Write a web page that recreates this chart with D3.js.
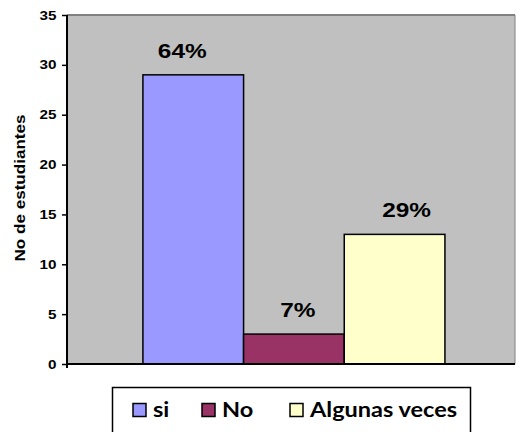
<!DOCTYPE html>
<html>
<head>
<meta charset="utf-8">
<script src="https://cdn.jsdelivr.net/npm/d3@7"></script>
<style>
  html, body { margin: 0; padding: 0; background: #ffffff; }
  svg { display: block; }
</style>
</head>
<body>
<svg id="chart" width="516" height="432"></svg>
<script>
// ---- data ----
const seriesNames = ["si", "No", "Algunas veces"];
const seriesValues = [29, 3, 13];
const valueLabels = ["64%", "7%", "29%"];
const yTicks = [0, 5, 10, 15, 20, 25, 30, 35];
const yTitle = "No de estudiantes";
const seriesColors = ["#9999ff", "#993366", "#ffffcc"];

// ---- layout ----
const W = 516, H = 432;
const plot = { left: 67, right: 515, top: 15, bottom: 364 };
const labelShift = [-11, 4, 12];   // small manual nudges of the data labels
const stretch = 1.22;              // the source chart's text is horizontally stretched

const svg = d3.select("#chart");

const x = d3.scaleBand()
  .domain(seriesNames)
  .range([plot.left, plot.right])
  .paddingInner(0)
  .paddingOuter(0.725)
  .align(0.52);

const y = d3.scaleLinear()
  .domain([0, 35])
  .range([plot.bottom, plot.top]);

// plot area background
svg.append("rect")
  .attr("x", plot.left).attr("y", plot.top)
  .attr("width", plot.right - plot.left).attr("height", plot.bottom - plot.top)
  .attr("fill", "#c0c0c0");
svg.append("line")
  .attr("x1", plot.left).attr("x2", plot.right)
  .attr("y1", plot.top).attr("y2", plot.top)
  .attr("stroke", "#808080").attr("stroke-width", 2);
svg.append("line")
  .attr("x1", plot.right).attr("x2", plot.right)
  .attr("y1", plot.top).attr("y2", plot.bottom)
  .attr("stroke", "#808080").attr("stroke-width", 1);

// bars
svg.append("g").selectAll("rect")
  .data(seriesValues)
  .join("rect")
  .attr("x", (d, i) => x(seriesNames[i]))
  .attr("y", d => y(d))
  .attr("width", x.bandwidth())
  .attr("height", d => y(0) - y(d))
  .attr("fill", (d, i) => seriesColors[i])
  .attr("stroke", "#000")
  .attr("stroke-width", 1.5);

// data labels
svg.append("g").selectAll("text")
  .data(seriesValues)
  .join("text")
  .attr("transform", (d, i) =>
    `translate(${x(seriesNames[i]) + x.bandwidth() / 2 + labelShift[i]},${y(d) - 17}) scale(${stretch},1)`)
  .attr("text-anchor", "middle")
  .attr("font-family", "'Liberation Sans', Arial, sans-serif")
  .attr("font-weight", "bold")
  .attr("font-size", 20)
  .attr("fill", "#000")
  .text((d, i) => valueLabels[i]);

// y axis
const yAxis = d3.axisLeft(y).tickValues(yTicks).tickSize(5).tickPadding(5).tickFormat(d3.format("d"));
const gy = svg.append("g")
  .attr("transform", `translate(${plot.left},0)`)
  .call(yAxis);
gy.select(".domain").attr("stroke", "#000").attr("stroke-width", 2)
  .attr("d", `M0,${plot.top}V${plot.bottom + 4}`);
gy.selectAll(".tick line").attr("stroke", "#000").attr("stroke-width", 1.5);
gy.selectAll(".tick text")
  .attr("x", 0)
  .attr("transform", `translate(-10.5,0) scale(${stretch},1)`)
  .attr("font-family", "'Liberation Sans', Arial, sans-serif")
  .attr("font-weight", "bold")
  .attr("font-size", 12.5)
  .attr("fill", "#000");

// x axis baseline
svg.append("line")
  .attr("x1", plot.left).attr("x2", plot.right)
  .attr("y1", y(0)).attr("y2", y(0))
  .attr("stroke", "#000").attr("stroke-width", 2);

// y title
svg.append("text")
  .attr("transform", `translate(25,188) rotate(-90) scale(${stretch},1)`)
  .attr("text-anchor", "middle")
  .attr("font-family", "'Liberation Sans', Arial, sans-serif")
  .attr("font-weight", "bold")
  .attr("font-size", 14)
  .attr("fill", "#000")
  .text(yTitle);

// legend
const legend = svg.append("g");
legend.append("rect")
  .attr("x", 112.5).attr("y", 387.5)
  .attr("width", 358).attr("height", 60)
  .attr("fill", "#fff").attr("stroke", "#000").attr("stroke-width", 1.5);

const legendX = [133, 202, 290];
const items = legend.selectAll("g.item")
  .data(seriesNames)
  .join("g")
  .attr("class", "item")
  .attr("transform", (d, i) => `translate(${legendX[i]},403.5)`);
items.append("rect")
  .attr("width", 13).attr("height", 13)
  .attr("fill", (d, i) => seriesColors[i])
  .attr("stroke", "#000").attr("stroke-width", 1.5);
items.append("text")
  .attr("transform", "translate(20,13) scale(1.12,1)")
  .attr("font-family", "Lato, 'Open Sans', sans-serif")
  .attr("font-weight", "bold")
  .attr("font-size", 21)
  .attr("fill", "#000")
  .text(d => d);
</script>
</body>
</html>
